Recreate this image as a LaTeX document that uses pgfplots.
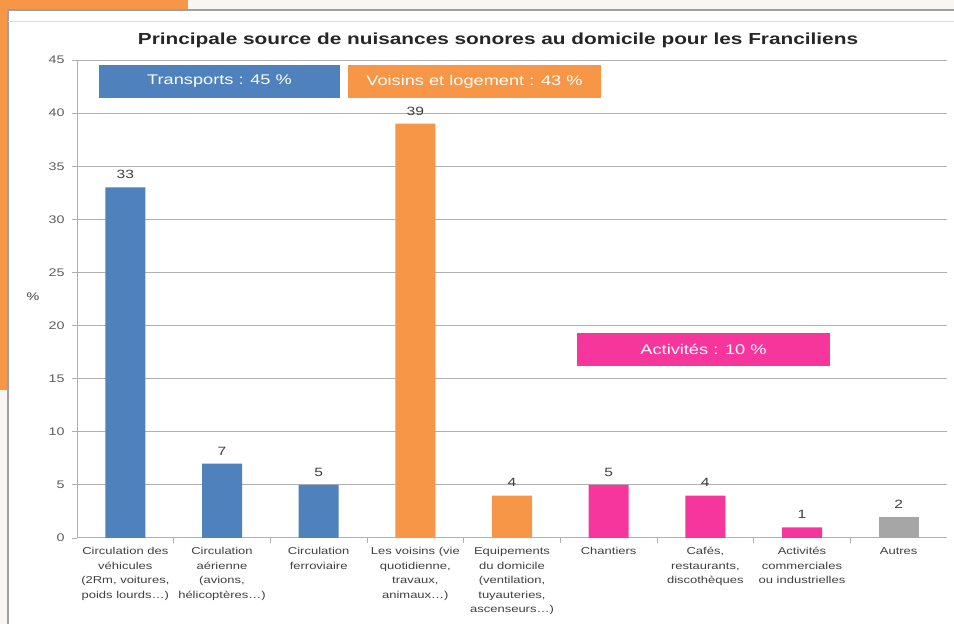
\documentclass[border=0pt]{standalone}
\usepackage{fontspec}
\setmainfont[FakeStretch=1.3]{Liberation Sans}
\usepackage{pgfplots}
\pgfplotsset{compat=1.18}
\definecolor{cblue}{HTML}{4F81BD}
\definecolor{corange}{HTML}{F79646}
\definecolor{cpink}{HTML}{F7369D}
\definecolor{cgray}{HTML}{A6A6A6}
\definecolor{cream}{HTML}{F8F6F0}
\definecolor{txt}{HTML}{404040}
\definecolor{gridc}{HTML}{B0B0B0}
\newcommand{\dd}{\ldots}
\begin{document}
\begin{tikzpicture}
\clip (0pt,0pt) rectangle (954pt,624pt);
\fill[cream] (0pt,0pt) rectangle (954pt,624pt);
\fill[corange] (0pt,234pt) rectangle (188pt,624pt);
\filldraw[fill=white, draw=gray!75, line width=1.5pt] (8pt,-10pt) rectangle (975pt,614pt);
\draw[gray!25, line width=0.8pt] (8pt,603pt) -- (954pt,603pt);
\begin{axis}[
  at={(77pt,86pt)}, anchor=south west,
  scale only axis, width=870pt, height=478pt,
  ymin=0, ymax=45, xmin=-0.5, xmax=8.5,
  ytick={0,5,10,15,20,25,30,35,40,45},
  xtick={0,1,2,3,4,5,6,7,8},
  xticklabels={{Circulation des\\véhicules\\(2Rm, voitures,\\poids lourds\dd)},
               {Circulation\\aérienne\\(avions,\\hélicoptères\dd)},
               {Circulation\\ferroviaire},
               {Les voisins (vie\\quotidienne,\\travaux,\\animaux\dd)},
               {Equipements\\du domicile\\(ventilation,\\tuyauteries,\\ascenseurs\dd)},
               {Chantiers},
               {Cafés,\\restaurants,\\discothèques},
               {Activités\\commerciales\\ou industrielles},
               {Autres}},
  xticklabel style={align=center, font=\fontsize{10}{14.5}\selectfont, text=txt, yshift=-1pt},
  yticklabel style={font=\fontsize{11}{13}\selectfont, text=txt!85, xshift=-4pt},
  /pgf/number format/assume math mode=true,
  axis x line=bottom, axis y line=left,
  axis line style={draw=gridc, line width=1pt, -},
  x axis line style={-}, y axis line style={-},
  major x tick style={draw=none},
  minor xtick={0.5,1.5,2.5,3.5,4.5,5.5,6.5,7.5},
  minor tick length=5pt,
  minor x tick style={draw=gridc, line width=0.8pt},
  major tick length=5pt,
  y tick style={draw=gridc, line width=0.8pt},
  tick align=outside,
  ymajorgrids, grid style={draw=gridc, line width=1pt},
  ybar, bar width=40pt, bar shift=0pt,
  nodes near coords,
  every node near coord/.append style={font=\fontsize{12}{14}\selectfont, text=txt, yshift=5pt},
  clip=false,
]
\addplot[fill=cblue, draw=none] coordinates {(0,33) (1,7) (2,5)};
\addplot[fill=corange, draw=none] coordinates {(3,39) (4,4)};
\addplot[fill=cpink, draw=none] coordinates {(5,5) (6,4) (7,1)};
\addplot[fill=cgray, draw=none] coordinates {(8,2)};
\end{axis}
\node[font=\bfseries\fontsize{16}{18}\selectfont, text=black!85] at (498pt,584pt) {Principale source de nuisances sonores au domicile pour les Franciliens};
\node[font=\fontsize{11}{13}\selectfont, text=txt] at (33pt,327pt) {\%};
\fill[cblue] (99pt,526pt) rectangle (340pt,559pt);
\node[white, font=\fontsize{14}{16}\selectfont] at (219.5pt,542.5pt) {Transports : 45 \%};
\fill[corange] (348pt,526pt) rectangle (601pt,559pt);
\node[white, font=\fontsize{14}{16}\selectfont] at (474.5pt,542.5pt) {Voisins et logement : 43 \%};
\fill[cpink] (577pt,258pt) rectangle (830pt,291pt);
\node[white, font=\fontsize{14}{16}\selectfont] at (703.5pt,274.5pt) {Activités : 10 \%};
\end{tikzpicture}
\end{document}
